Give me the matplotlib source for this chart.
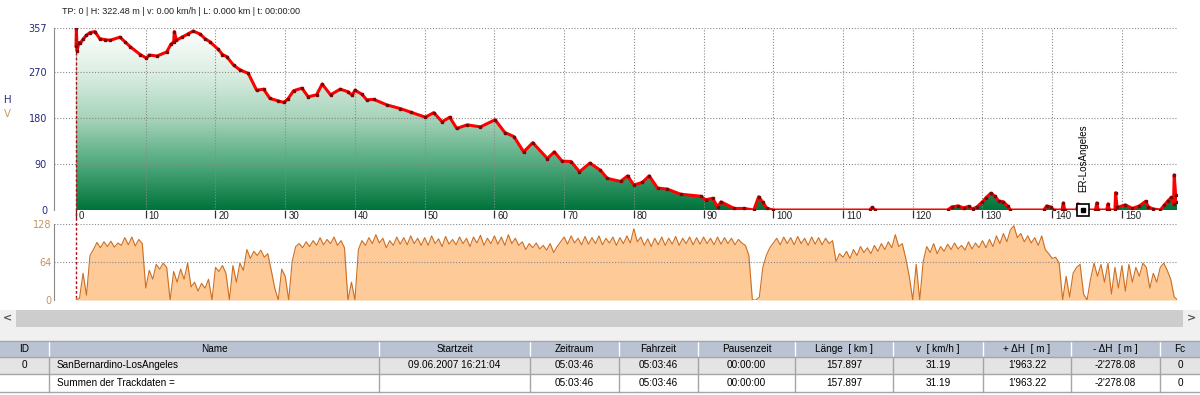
"""Track profile chart — elevation + speed with track table below."""

import numpy as np
import matplotlib
matplotlib.use("Agg")
import matplotlib.pyplot as plt
from matplotlib import font_manager
from matplotlib.colors import LinearSegmentedColormap
from matplotlib.patches import Polygon, Rectangle
from matplotlib.lines import Line2D
from matplotlib.transforms import offset_copy

# ---- data -------------------------------------------------------------
elev_km = [
    0.0, 0.05, 0.15, 0.4, 0.6, 1.0, 1.5, 2.0, 2.7, 3.4,
    4.2, 4.9, 6.3, 7.0, 7.8, 9.2, 10.1, 10.5, 11.6, 13.0,
    13.6, 14.0, 14.1, 14.4, 15.2, 16.0, 16.8, 17.8, 18.5, 19.2,
    20.4, 21.0, 21.6, 22.6, 23.5, 24.7, 25.9, 26.9, 27.8, 29.0,
    29.8, 30.4, 31.2, 32.4, 33.3, 34.5, 35.3, 36.5, 37.9, 39.0,
    39.6, 40.0, 41.0, 41.7, 42.7, 44.6, 46.5, 48.0, 50.1, 51.3,
    52.5, 53.6, 54.6, 56.1, 58.0, 60.1, 61.5, 62.8, 64.2, 65.5,
    67.6, 68.6, 69.7, 71.0, 72.2, 73.7, 75.2, 76.2, 78.1, 79.1,
    80.0, 81.2, 82.2, 83.4, 84.8, 86.7, 89.6, 90.3, 91.3, 92.0,
    92.5, 94.4, 95.8, 97.2, 97.9, 98.5, 99.1, 100.0, 113.8, 114.2,
    114.6, 125.0, 125.6, 126.5, 127.3, 128.0, 128.6, 129.2, 130.0, 130.5,
    131.2, 131.8, 132.3, 133.0, 133.6, 134.0, 138.8, 139.2, 139.8, 140.2,
    141.4, 141.6, 141.8, 143.5, 143.7, 143.9, 146.2, 146.4, 146.6, 147.8,
    148.0, 148.2, 149.0, 149.1, 149.3, 150.5, 151.5, 152.5, 153.4, 153.8,
    154.5, 155.5, 156.1, 156.6, 157.1, 157.4, 157.5, 157.7, 157.9,
]
elev_m = [
    322, 357, 312, 328, 327, 335, 343, 348, 350, 336,
    334, 333, 339, 330, 320, 305, 298, 304, 302, 310,
    325, 330, 350, 333, 339, 345, 351, 345, 336, 330,
    315, 305, 301, 284, 275, 268, 235, 237, 219, 214,
    211, 218, 234, 239, 222, 226, 247, 226, 237, 232,
    225, 235, 227, 216, 217, 206, 199, 192, 182, 191,
    173, 182, 160, 167, 163, 177, 152, 144, 114, 132,
    101, 114, 96, 95, 75, 92, 78, 62, 56, 67,
    49, 54, 67, 43, 41, 31, 27, 20, 23, 6,
    16, 3, 3, 0, 26, 15, 3, 0, 0, 5,
    0, 0, 6, 8, 4, 7, 2, 6, 16, 24,
    33, 27, 18, 16, 8, 0, 0, 8, 6, 0,
    0, 14, 0, 0, 12, 0, 0, 14, 0, 0,
    12, 0, 0, 34, 5, 10, 3, 8, 17, 6,
    2, 0, 10, 18, 25, 12, 69, 30, 15,
]

# speed in km/h, one value every 0.5 km starting at km 0
speed_kmh = [
    0, 3, 45, 8, 75, 85, 97, 88, 98, 90, 99, 89, 96, 92, 105, 93, 106, 91, 102, 95,
    20, 50, 35, 60, 52, 62, 55, 0, 48, 30, 52, 35, 62, 22, 30, 15, 28, 20, 35, 0,
    55, 48, 58, 45, 0, 58, 30, 62, 50, 85, 70, 82, 75, 84, 72, 78, 50, 20, 0, 52,
    40, 0, 65, 90, 95, 88, 98, 90, 100, 92, 105, 93, 102, 95, 106, 92, 100, 88, 0, 30,
    0, 85, 100, 92, 105, 95, 110, 96, 104, 88, 100, 92, 106, 94, 105, 93, 108, 95, 104, 92,
    105, 92, 108, 95, 103, 90, 107, 94, 102, 93, 106, 95, 104, 90, 106, 96, 109, 92, 104, 95,
    108, 94, 106, 92, 110, 95, 104, 92, 98, 85, 95, 88, 96, 86, 92, 84, 95, 80, 90, 98,
    106, 94, 108, 96, 104, 93, 107, 94, 105, 95, 108, 93, 104, 96, 106, 92, 105, 95, 108, 96,
    120, 98, 106, 92, 103, 90, 104, 93, 106, 92, 104, 94, 107, 92, 104, 95, 106, 93, 105, 94,
    106, 95, 104, 93, 106, 94, 105, 95, 104, 93, 102, 96, 92, 75, 0, 0, 5, 55, 75, 88,
    96, 104, 93, 106, 95, 105, 93, 107, 95, 104, 92, 106, 94, 105, 93, 104, 95, 100, 65, 78,
    72, 82, 70, 85, 75, 90, 80, 88, 78, 92, 82, 95, 85, 98, 88, 110, 90, 95, 70, 40,
    0, 60, 0, 65, 90, 80, 95, 78, 90, 82, 94, 85, 96, 86, 92, 84, 98, 86, 96, 88,
    100, 88, 102, 90, 108, 95, 112, 98, 118, 125, 105, 112, 98, 108, 96, 105, 92, 108, 85, 78,
    70, 72, 62, 0, 40, 5, 45, 55, 60, 10, 0, 35, 62, 40, 60, 30, 62, 10, 55, 20,
    58, 15, 60, 30, 55, 40, 62, 55, 20, 45, 30, 55, 62, 50, 35, 5, 0,
]
speed_step_km = 0.5

elev_ticks = [0, 90, 180, 270, 357]
speed_ticks = [0, 64, 128]
dist_ticks = list(range(0, 151, 10))
track_len_km = 157.9

waypoint_km = 144.4
waypoint_name = "ER-LosAngeles"

status_text = "TP: 0 | H: 322.48 m | v: 0.00 km/h | L: 0.000 km | t: 00:00:00"

table_header = ["ID", "Name", "Startzeit", "Zeitraum", "Fahrzeit", "Pausenzeit",
                "Länge  [ km ]", "v  [ km/h ]", "+ ΔH  [ m ]", "- ΔH  [ m ]", "Fc"]
table_track = ["0", "SanBernardino-LosAngeles", "09.06.2007 16:21:04", "05:03:46",
               "05:03:46", "00:00:00", "157.897", "31.19", "1'963.22", "-2'278.08", "0"]
table_sum = ["", "Summen der Trackdaten =", "", "05:03:46", "05:03:46", "00:00:00",
             "157.897", "31.19", "1'963.22", "-2'278.08", "0"]

# ---- layout (pixels) --------------------------------------------------
W, H = 1200, 395
col_edges = [0, 49, 379, 530, 619, 698, 795, 893, 983, 1071, 1160, 1200]

names = {f.name for f in font_manager.fontManager.ttflist}
if "Liberation Sans Narrow" in names:
    UI_FONT, UI_SIZE = "Liberation Sans Narrow", 8.4
else:
    UI_FONT, UI_SIZE = "Liberation Sans", 7.2
plt.rcParams["font.family"] = [UI_FONT, "DejaVu Sans"]

ELEV_COL = "#232a7c"
SPEED_COL = "#c8925e"
GRID_KW = dict(color="#8a8a8a", linestyle=(0, (1, 1.6)), linewidth=0.8)


def fx(px):
    return px / W


def fy(py):
    return 1 - py / H


fig = plt.figure(figsize=(W / 100, H / 100), dpi=100)
fig.patch.set_facecolor("white")

# ---- elevation panel --------------------------------------------------
x0 = -3.16
ax_h = fig.add_axes([fx(54), fy(210), fx(1177) - fx(54), 182 / H])
ax_h.set_xlim(x0, track_len_km)
ax_h.set_ylim(0, 357)

green = LinearSegmentedColormap.from_list(
    "elev", [(0, "#00733a"), (0.25, "#4fa97c"), (0.5, "#a6d3ba"),
             (0.75, "#dbeee2"), (1, "#ffffff")])
grad = np.linspace(0, 1, 256).reshape(-1, 1)
im = ax_h.imshow(grad, extent=[x0, track_len_km, 0, 357], origin="lower",
                 aspect="auto", cmap=green, zorder=1)
verts = [(elev_km[0], 0)] + list(zip(elev_km, elev_m)) + [(elev_km[-1], 0)]
clip = Polygon(verts, closed=True, facecolor="none", edgecolor="none")
ax_h.add_patch(clip)
im.set_clip_path(clip)

ax_h.plot(elev_km, elev_m, color="#ff0000", lw=2.2, zorder=4)
ax_h.plot(elev_km, elev_m, ls="none", marker="s", ms=1.6, color="#7a0808", zorder=5)

ax_h.set_yticks(elev_ticks)
ax_h.set_yticklabels([str(t) for t in elev_ticks], family="DejaVu Sans")
ax_h.tick_params(axis="y", length=0, pad=5, labelsize=7, labelcolor=ELEV_COL)
ax_h.set_xticks(dist_ticks)
ax_h.tick_params(axis="x", direction="out", length=6, width=0.9, color="#303030",
                 labelbottom=False)
ax_h.grid(True, **GRID_KW)
ax_h.set_axisbelow(False)
for s in ("top", "right", "bottom"):
    ax_h.spines[s].set_visible(False)
ax_h.spines["left"].set_color("#8a8a8a")

lab_tr = offset_copy(ax_h.transData, fig=fig, x=3, y=-1, units="dots")
for t in dist_ticks:
    ax_h.text(t, 0, str(t), transform=lab_tr, ha="left", va="top",
              fontsize=7, family="Liberation Sans", color="#202020")

# waypoint
ax_h.plot(waypoint_km, 0, marker="s", ms=9, mfc="white", mec="black", mew=1.2,
          clip_on=False, zorder=6)
ax_h.plot(waypoint_km, 0, marker="s", ms=3.5, color="black", clip_on=False, zorder=7)
wp_tr = offset_copy(ax_h.transData, fig=fig, x=0, y=18, units="dots")
ax_h.text(waypoint_km, 0, waypoint_name, transform=wp_tr, rotation=90,
          ha="center", va="bottom", fontsize=7, family="Liberation Sans")

# ---- speed panel ------------------------------------------------------
speed_km = np.arange(len(speed_kmh)) * speed_step_km
ax_v = fig.add_axes([fx(54), fy(300), fx(1177) - fx(54), 76 / H])
ax_v.set_xlim(x0, track_len_km)
ax_v.set_ylim(0, 128)
ax_v.fill_between(speed_km, speed_kmh, 0, color="#fdca98", lw=0, zorder=1)
ax_v.plot(speed_km, speed_kmh, color="#cd6f22", lw=0.8, zorder=2)
ax_v.set_xticks([])
ax_v.set_yticks(speed_ticks)
ax_v.set_yticklabels([str(t) for t in speed_ticks], family="DejaVu Sans")
ax_v.tick_params(axis="y", length=0, pad=2, labelsize=7, labelcolor=SPEED_COL)
ax_v.grid(True, axis="y", **GRID_KW)
ax_v.set_axisbelow(False)
for s in ("top", "right", "bottom"):
    ax_v.spines[s].set_visible(False)
ax_v.spines["left"].set_color("#8a8a8a")

# current-position marker across both panels
fig.add_artist(Line2D([fx(75.5), fx(75.5)], [fy(28), fy(300)], color="#b01010",
                      lw=1, linestyle=(0, (2, 1.5)), zorder=8))

fig.text(fx(7), fy(100), "H", color=ELEV_COL, fontsize=7.5, ha="center", va="center",
         family="Liberation Sans")
fig.text(fx(7), fy(114), "V", color=SPEED_COL, fontsize=7.5, ha="center", va="center",
         family="Liberation Sans")
fig.text(fx(62), fy(12), status_text, fontsize=6.5, ha="left", va="center", color="#202020")

# ---- scrollbar + table ------------------------------------------------
ui = fig.add_axes([0, 0, 1, 1], zorder=-1)
ui.set_xlim(0, W)
ui.set_ylim(H, 0)
ui.axis("off")

ui.add_patch(Rectangle((0, 310), W, 17, fc="#f0f0f0", ec="none"))
ui.add_patch(Rectangle((16, 310), 1167, 17, fc="#cdcdcd", ec="none"))
ui.text(7, 318.5, "<", ha="center", va="center", fontsize=8, color="#555555",
        family="DejaVu Sans", weight="bold")
ui.text(1192, 318.5, ">", ha="center", va="center", fontsize=8, color="#555555",
        family="DejaVu Sans", weight="bold")
ui.add_patch(Rectangle((0, 327), W, 14, fc="#f0f0f0", ec="none"))

rows = [(341, 16, "#b9c3d3", table_header),
        (357, 17, "#e4e4e4", table_track),
        (374, 18, "#ffffff", table_sum)]
for top, hgt, bg, cells in rows:
    ui.add_patch(Rectangle((0, top), W, hgt, fc=bg, ec="none"))
    sep = "#ffffff" if top == 341 else "#a5a5a5"
    for e in col_edges[1:-1]:
        ui.plot([e, e], [top, top + hgt], color=sep, lw=1)
    for i, txt in enumerate(cells):
        l, r = col_edges[i], col_edges[i + 1]
        if i == 1 and top != 341:
            ui.text(l + 8, top + hgt / 2, txt, ha="left", va="center",
                    fontsize=UI_SIZE, color="black")
        else:
            ui.text((l + r) / 2, top + hgt / 2, txt, ha="center", va="center",
                    fontsize=UI_SIZE, color="black")
for yl in (341, 357, 374, 392):
    ui.plot([0, W], [yl, yl], color="#a5a5a5", lw=1)

fig.savefig("out.png", dpi=100)
